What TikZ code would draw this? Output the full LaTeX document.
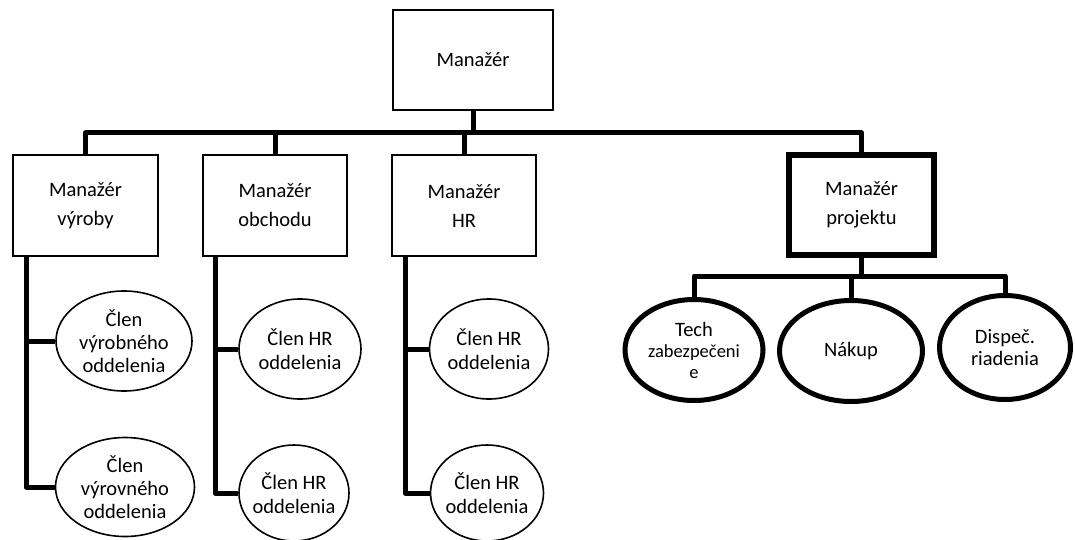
\documentclass[tikz,border=0pt]{standalone}
\usepackage{fontspec}
\setmainfont{Carlito}
\usetikzlibrary{shapes.geometric}
\begin{document}
\begin{tikzpicture}[x=1pt,y=-1pt,
  mgr/.style={draw, rectangle, line width=1.6pt, align=center, inner sep=0pt,
    font=\fontsize{20.5}{29}\selectfont, text=black},
  mgrbold/.style={mgr, line width=6pt},
  member/.style={draw, ellipse, line width=1.6pt, align=center, inner xsep=-14pt, inner ysep=-8pt,
    font=\fontsize{20.5}{24}\selectfont, text=black},
  projm/.style={member, line width=5pt},
  conn/.style={line width=5pt, line join=round}]
\useasboundingbox (0,0) rectangle (1075,540);

% managers
\node[mgr, minimum width=160pt, minimum height=100pt] (top) at (473,60) {Manažér};
\node[mgr, minimum width=145pt, minimum height=101pt] (b1) at (85.5,205.5) {Manažér\\výroby};
\node[mgr, minimum width=144pt, minimum height=101pt] (b2) at (275,205.5) {Manažér\\obchodu};
\node[mgr, minimum width=144pt, minimum height=101pt] (b3) at (464,205.5) {Manažér\\HR};
\node[mgrbold, minimum width=145pt, minimum height=100pt] (b4) at (861.5,205) {Manažér\\projektu};

% members
\node[member, minimum width=136pt, minimum height=100pt, font=\fontsize{20.5}{23}\selectfont] (m11) at (124,341) {Člen\\výrobného\\oddelenia};
\node[member, minimum width=139pt, minimum height=99pt, font=\fontsize{20.5}{23}\selectfont] (m12) at (125,487) {Člen\\výrovného\\oddelenia};
\node[member, minimum width=122pt, minimum height=100pt] (m21) at (300,349) {Člen HR\\oddelenia};
\node[member, minimum width=110pt, minimum height=96pt] (m22) at (294,493) {Člen HR\\oddelenia};
\node[member, minimum width=119pt, minimum height=100pt] (m31) at (489,349) {Člen HR\\oddelenia};
\node[member, minimum width=113pt, minimum height=96pt] (m32) at (487,493) {Člen HR\\oddelenia};

% project team
\node[projm, minimum width=138pt, minimum height=101pt, font=\fontsize{18.5}{21}\selectfont] (p1) at (694,350) {{\fontsize{20.5}{21}\selectfont Tech}\\zabezpečeni\\e};
\node[projm, minimum width=143pt, minimum height=101pt] (p2) at (851,351) {Nákup};
\node[projm, minimum width=131pt, minimum height=104pt, font=\fontsize{20.5}{22}\selectfont] (p3) at (1005,347.5) {Dispeč.\\riadenia};

% helper coordinates
\coordinate (bar) at (0,133);
\coordinate (sub) at (0,276);
\coordinate (t1) at ([xshift=14pt]b1.south west);
\coordinate (t2) at ([xshift=13pt]b2.south west);
\coordinate (t3) at ([xshift=14pt]b3.south west);

% top level connectors
\draw[conn] (top.south) -- (top.south |- bar);
\draw[conn] (b1.north) -- (b1.north |- bar) -- (b4.north |- bar) -- (b4.north);
\draw[conn] (b2.north) -- (b2.north |- bar);
\draw[conn] (b3.north) -- (b3.north |- bar);

% department trunks
\draw[conn] (t1) |- (m12.west);
\draw[conn] (m11.west -| t1) -- (m11.west);
\draw[conn] (t2) |- (m22.west);
\draw[conn] (m21.west -| t2) -- (m21.west);
\draw[conn] (t3) |- (m32.west);
\draw[conn] (m31.west -| t3) -- (m31.west);

% project connectors
\draw[conn] (b4.south) -- (b4.south |- sub);
\draw[conn] (p1.north) -- (p1.north |- sub) -- (p3.north |- sub) -- (p3.north);
\draw[conn] (p2.north) -- (p2.north |- sub);
\end{tikzpicture}
\end{document}
